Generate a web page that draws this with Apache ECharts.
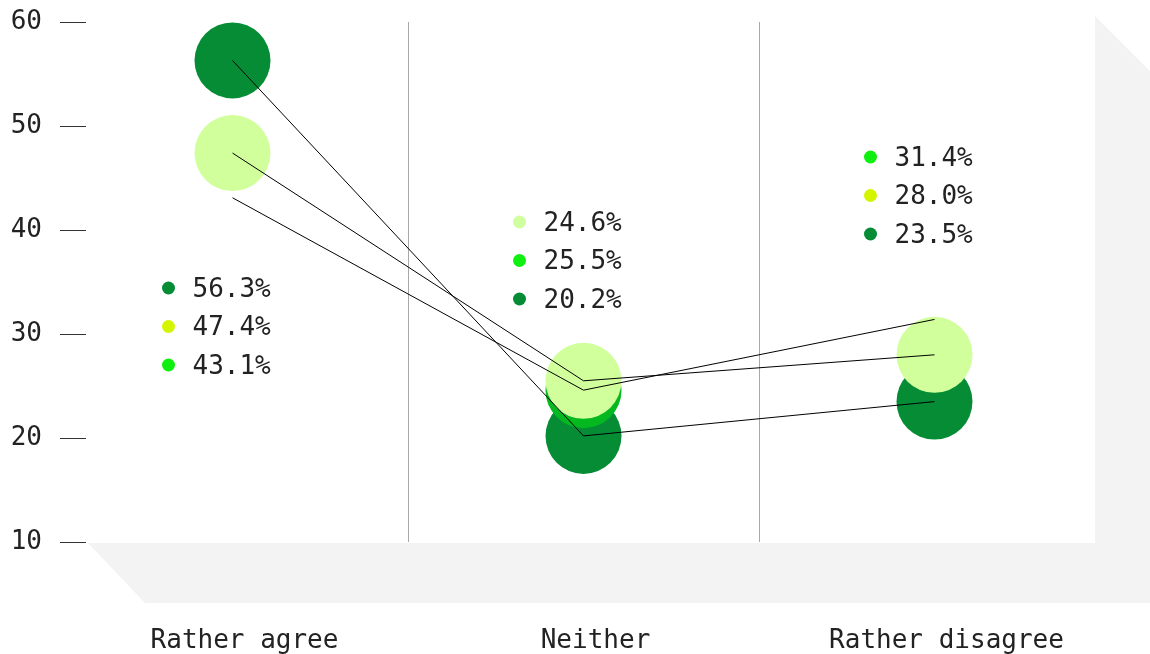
<!DOCTYPE html>
<html>
<head>
<meta charset="utf-8">
<script src="https://cdn.jsdelivr.net/npm/echarts@6/dist/echarts.min.js"></script>
<style>
  html, body { margin: 0; padding: 0; background: #ffffff; }
  #chart { width: 1150px; height: 654px; }
</style>
</head>
<body>
<div id="chart"></div>
<script>
// ---- data ----
const categories = ['Rather agree', 'Neither', 'Rather disagree'];
const darkValues = [56.3, 20.2, 23.5];
const paleValues = [47.4, 25.5, 28.0];
const brightValues = [43.1, 24.6, 31.4];
const yTicks = [10, 20, 30, 40, 50, 60];
const agreeLabels = ['56.3%', '47.4%', '43.1%'];
const neitherLabels = ['24.6%', '25.5%', '20.2%'];
const disagreeLabels = ['31.4%', '28.0%', '23.5%'];

// ---- styles ----
const FONT = 'DejaVu Sans Mono';
const C_DARK = '#058c35';
const C_PALE = '#d0ff9c';
const C_BRIGHT = '#04b820';
const C_DOT_YELLOW = '#d4f500';
const C_DOT_BRIGHT = '#10f010';
const C_DOT_PALE = '#d0ffa0';
const legendBlocks = [
  { labels: agreeLabels, colors: [C_DARK, C_DOT_YELLOW, C_DOT_BRIGHT], top: 288 },
  { labels: neitherLabels, colors: [C_DOT_PALE, C_DOT_BRIGHT, C_DARK], top: 222 },
  { labels: disagreeLabels, colors: [C_DOT_BRIGHT, C_DOT_YELLOW, C_DARK], top: 157 }
];

const chart = echarts.init(document.getElementById('chart'), null, { renderer: 'canvas' });

function circleSeries(name, values, color, z, sizeFn) {
  return {
    name: name, type: 'scatter', data: values, z: z,
    symbol: 'circle', symbolSize: sizeFn || 76,
    itemStyle: { color: color, opacity: 1 },
    emphasis: { disabled: true }, silent: true
  };
}
function lineSeries(name, values) {
  return {
    name: name, type: 'line', data: values, z: 10,
    symbol: 'none', lineStyle: { color: '#000000', width: 1 },
    emphasis: { disabled: true }, silent: true
  };
}

const option = {
  animation: false,
  backgroundColor: '#ffffff',
  grid: { left: 57, right: 40, top: 22, bottom: 111, containLabel: false },
  xAxis: {
    type: 'category', data: categories, boundaryGap: true,
    axisLine: { show: false }, axisTick: { show: false },
    axisLabel: { margin: 86, fontFamily: FONT, fontSize: 26, color: '#222', padding: [0, 0, 0, 24] },
    splitLine: { show: true, showMinLine: false, showMaxLine: false, lineStyle: { color: '#a8a8a8', width: 1 } }
  },
  yAxis: {
    type: 'value', min: yTicks[0], max: yTicks[yTicks.length - 1], interval: 10,
    offset: -29,
    axisLine: { show: false },
    axisTick: { show: true, length: 26, lineStyle: { color: '#333', width: 1 } },
    splitLine: { show: false },
    axisLabel: { margin: 44, fontFamily: FONT, fontSize: 26, color: '#222', padding: [3, 0, 0, 0] }
  },
  series: [
    circleSeries('dark', darkValues, C_DARK, 2),
    circleSeries('bright', brightValues, C_BRIGHT, 3, function (v, p) { return p.dataIndex === 1 ? 76 : 0; }),
    circleSeries('pale', paleValues, C_PALE, 4),
    lineSeries('darkLine', darkValues),
    lineSeries('paleLine', paleValues),
    lineSeries('brightLine', brightValues)
  ]
};
chart.setOption(option);

// decorations: shadow plane + value legends
const graphics = [{
  type: 'polygon', z: -10, silent: true,
  shape: { points: [[1095, 16], [1150, 71], [1150, 603], [145, 603], [88, 543], [1095, 543]] },
  style: { fill: '#f3f3f3' }
}];
legendBlocks.forEach(function (blk, i) {
  const cx = chart.convertToPixel({ xAxisIndex: 0 }, i);
  blk.labels.forEach(function (txt, r) {
    const y = blk.top + r * 38.5;
    graphics.push({ type: 'circle', z: 20, silent: true, shape: { cx: cx - 64, cy: y, r: 6.5 }, style: { fill: blk.colors[r] } });
    graphics.push({ type: 'text', z: 20, silent: true, x: cx - 40, y: y + 2,
      style: { text: txt, font: '26px "' + FONT + '"', fill: '#222', textVerticalAlign: 'middle', verticalAlign: 'middle' } });
  });
});
chart.setOption({ graphic: graphics });
</script>
</body>
</html>
